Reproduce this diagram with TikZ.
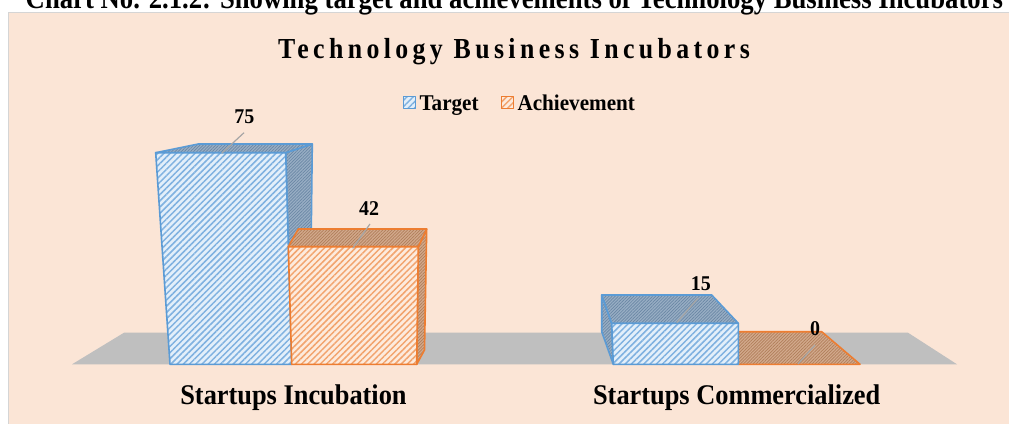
\documentclass[tikz,border=0pt]{standalone}
\usepackage{graphicx}
\usepackage{fontspec}
\setmainfont{Liberation Serif}
\newfontfamily\titlefont[LetterSpace=17]{Liberation Serif}
\usetikzlibrary{patterns.meta}
\definecolor{bg}{HTML}{FBE5D6}
\definecolor{brd}{HTML}{D5D5D5}
\definecolor{floorc}{HTML}{BFBFBF}
\definecolor{tb}{HTML}{5B9BD5}
\definecolor{tbl}{HTML}{E3EFFA}
\definecolor{tbs}{HTML}{7FB1E0}
\definecolor{tbd}{HTML}{98AEC4}
\definecolor{tbdl}{HTML}{6A87A5}
\definecolor{ao}{HTML}{ED7D31}
\definecolor{aol}{HTML}{FDEBDD}
\definecolor{aos}{HTML}{F2A46E}
\definecolor{aod}{HTML}{D2A98C}
\definecolor{aodl}{HTML}{B07E5A}
\definecolor{leadc}{HTML}{A6A6A6}
\newcommand{\hsq}[2]{\scalebox{#1}[1]{#2}}
\tikzset{
  tfront/.style={draw=tb, line width=1.6pt, line join=round, preaction={fill=tbl},
    pattern={Lines[angle=45,distance=4.4pt,line width=1.5pt]}, pattern color=tbs},
  tdark/.style={draw=tb, line width=1.6pt, line join=round, preaction={fill=tbd},
    pattern={Lines[angle=45,distance=2.2pt,line width=0.7pt]}, pattern color=tbdl},
  afront/.style={draw=ao, line width=1.6pt, line join=round, preaction={fill=aol},
    pattern={Lines[angle=45,distance=4.4pt,line width=1.5pt]}, pattern color=aos},
  adark/.style={draw=ao, line width=1.6pt, line join=round, preaction={fill=aod},
    pattern={Lines[angle=45,distance=2.2pt,line width=0.7pt]}, pattern color=aodl},
  lbl/.style={inner sep=0pt, anchor=base, font=\bfseries},
  leader/.style={draw=leadc, line width=1.2pt},
  legsq/.style={minimum size=12pt, inner sep=0pt, line width=0.8pt}
}
\begin{document}
\begin{tikzpicture}[x=1pt,y=-1pt]
\useasboundingbox (0,0) rectangle (1009,423);
\clip (0,0) rectangle (1009,423);
% chart area
\fill[bg] (8.3,12.3) rectangle (1012,426);
\draw[brd, line width=1.5pt] (8.3,426) -- (8.3,12.3) -- (1012,12.3);
% caption (cut off at the top edge, as in the reference)
\node[lbl] (cap) at (514.4,8.5) {\hsq{0.89}{\fontsize{30}{30}\selectfont Chart No. 2.1.2: Showing target and achievements of Technology Business Incubators}};
% title
\node[lbl] (title) at (514,58.3) {\hsq{0.89}{\fontsize{29}{29}\selectfont\titlefont\bfseries Technology Business Incubators}};
% legend
\node[legsq, tfront, line width=0.8pt] (lt) at (409.5,102.5) {};
\node[lbl, anchor=base west] (ltt) at (419.3,110) {\hsq{0.94}{\fontsize{22.5}{22.5}\selectfont Target}};
\node[legsq, afront, line width=0.8pt] (la) at (507,102.5) {};
\node[lbl, anchor=base west] (lat) at (517.3,110) {\hsq{0.94}{\fontsize{22.5}{22.5}\selectfont Achievement}};
% floor
\fill[floorc] (72,364.3) -- (124,332.7) -- (908,332.7) -- (957,364.3) -- cycle;
% target bar 1
\path[tdark] (285.7,152.7) -- (312.3,144) -- (310,336) -- (291.7,364.3) -- cycle;
\path[tdark] (155.7,152.7) -- (198.3,144) -- (312.3,144) -- (285.7,152.7) -- cycle;
\path[tfront] (155.7,152.7) -- (285.7,152.7) -- (291.7,364.3) -- (170,364.3) -- cycle;
% achievement bar 1
\path[adark] (418.3,246.7) -- (426.7,229) -- (424.5,350) -- (416.7,364.3) -- cycle;
\path[adark] (288.3,246.7) -- (298.3,229) -- (426.7,229) -- (418.3,246.7) -- cycle;
\path[afront] (288.3,246.7) -- (418.3,246.7) -- (416.7,364.3) -- (291.7,364.3) -- cycle;
% achievement bar 2 (zero)
\path[adark] (711.7,331.7) -- (821.7,331.7) -- (860,364.3) -- (738.3,364.3) -- cycle;
% target bar 2
\path[tdark] (601.7,295) -- (611.7,323.3) -- (613.3,364.3) -- (601.7,331.7) -- cycle;
\path[tdark] (601.7,295) -- (711.7,295) -- (738.3,323.3) -- (611.7,323.3) -- cycle;
\path[tfront] (611.7,323.3) -- (738.3,323.3) -- (738.3,364.3) -- (613.3,364.3) -- cycle;
% data labels and leaders
\node[lbl] (n75) at (244.3,123.3) {\hsq{0.95}{\fontsize{21}{21}\selectfont 75}};
\node[lbl] (n42) at (369,215) {\hsq{0.95}{\fontsize{21}{21}\selectfont 42}};
\node[lbl] (n15) at (700.8,290) {\hsq{0.95}{\fontsize{21}{21}\selectfont 15}};
\node[lbl] (n0) at (815,335) {\hsq{0.95}{\fontsize{21}{21}\selectfont 0}};
\coordinate (a75) at (244,132.7); \coordinate (b75) at (221.7,153.3);
\coordinate (a42) at (370,224);   \coordinate (b42) at (352.7,248.3);
\coordinate (a15) at (698,298);   \coordinate (b15) at (676.7,322.7);
\coordinate (a0) at (815,345);    \coordinate (b0) at (798,364);
\draw[leader] (a75) -- (b75);
\draw[leader] (a42) -- (b42);
\draw[leader] (a15) -- (b15);
\draw[leader] (a0) -- (b0);
% category labels
\node[lbl] (c1) at (293.5,404) {\hsq{0.925}{\fontsize{28.5}{28.5}\selectfont Startups Incubation}};
\node[lbl] (c2) at (736.7,404) {\hsq{0.925}{\fontsize{28.5}{28.5}\selectfont Startups Commercialized}};
\end{tikzpicture}
\end{document}
